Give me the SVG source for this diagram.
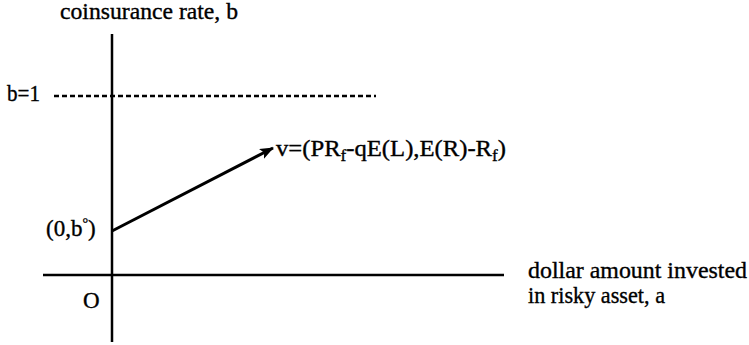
<svg xmlns="http://www.w3.org/2000/svg" width="749" height="345" viewBox="0 0 749 345">
<style>
text{font-family:"Liberation Serif","Times New Roman",serif;font-size:23px;fill:#000;stroke:#000;stroke-width:0.35}
.ax{stroke:#000;stroke-width:2.5;fill:none}
.dash{stroke:#000;stroke-width:2.5;stroke-dasharray:5 3;fill:none}
.sub{font-size:16px}
</style>
<defs>
<marker id="ah" markerWidth="14" markerHeight="11" refX="13" refY="5.5" orient="auto" markerUnits="userSpaceOnUse">
<path d="M0,0 L14,5.5 L0,11 L3,5.5 Z" fill="#000"/>
</marker>
</defs>
<g id="axes">
<line class="ax" x1="112" y1="34" x2="112" y2="342"/>
<line class="ax" x1="43" y1="275" x2="504" y2="275"/>
<line class="dash" x1="54" y1="96" x2="376" y2="96"/>
</g>
<g id="connectors">
<line x1="112" y1="231" x2="273" y2="148" stroke="#000" stroke-width="3" marker-end="url(#ah)"/>
</g>
<g id="labels">
<text x="60" y="19" textLength="178" lengthAdjust="spacingAndGlyphs">coinsurance rate, b</text>
<text x="7" y="101" textLength="33" lengthAdjust="spacingAndGlyphs">b=1</text>
<text x="46" y="236" font-size="22">(0,b<tspan font-size="14" dy="-8">°</tspan><tspan dy="8">)</tspan></text>
<text x="83" y="308">O</text>
<text x="276" y="156" textLength="230" lengthAdjust="spacingAndGlyphs">v=(PR<tspan class="sub" dy="5">f</tspan><tspan dy="-5">-qE(L),E(R)-R</tspan><tspan class="sub" dy="5">f</tspan><tspan dy="-5">)</tspan></text>
<text x="528" y="278" textLength="219" lengthAdjust="spacingAndGlyphs">dollar amount invested</text>
<text x="528" y="303" textLength="137" lengthAdjust="spacingAndGlyphs">in risky asset, a</text>
</g>
</svg>
